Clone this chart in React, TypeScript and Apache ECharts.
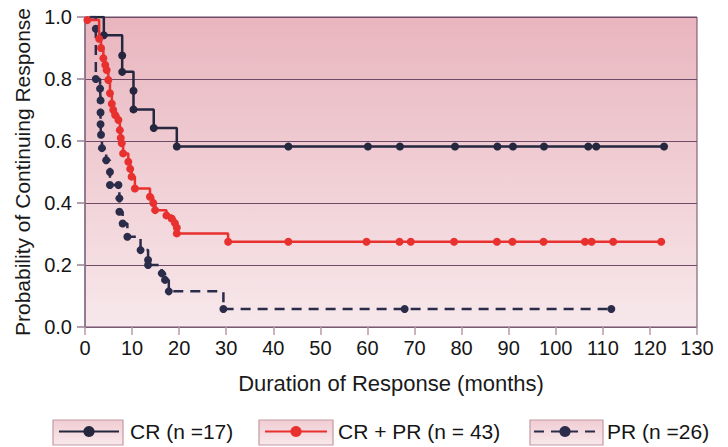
import React, { useEffect, useRef } from "react";
import * as echarts from "echarts";

const xTicks = [0, 10, 20, 30, 40, 50, 60, 70, 80, 90, 100, 110, 120, 130];
const yTicks = [0, 0.2, 0.4, 0.6, 0.8, 1.0];

const seriesNames = ["CR (n =17)", "CR + PR (n = 43)", "PR (n =26)"];

// [months, probability]
const crTimes = [1, 4.0, 7.9, 7.9, 10.3, 10.3, 14.6, 19.5, 43.2, 60.1, 66.9, 78.6, 87.6, 90.9, 97.5, 106.9, 108.6, 123.0];
const crValues = [1.0, 0.941, 0.876, 0.823, 0.762, 0.702, 0.642, 0.582, 0.582, 0.582, 0.582, 0.582, 0.582, 0.582, 0.582, 0.582, 0.582, 0.582];

const crprTimes = [0.5, 3.0, 3.4, 3.9, 4.3, 4.6, 4.95, 5.3, 5.7, 6.0, 6.4, 7.1, 7.4, 7.6, 7.8, 8.1, 9.2, 9.6, 9.9, 10.6, 13.8, 14.5, 14.9, 17.3, 18.4, 19.1, 19.5, 19.5, 30.4, 43.2, 59.8, 66.8, 69.2, 78.4, 87.5, 90.8, 97.4, 106.2, 107.6, 112.2, 122.4];
const crprValues = [0.99, 0.93, 0.9, 0.867, 0.845, 0.829, 0.797, 0.754, 0.72, 0.7, 0.684, 0.668, 0.635, 0.61, 0.593, 0.56, 0.533, 0.51, 0.485, 0.447, 0.42, 0.4, 0.377, 0.36, 0.35, 0.335, 0.32, 0.302, 0.275, 0.275, 0.275, 0.275, 0.275, 0.275, 0.275, 0.275, 0.275, 0.275, 0.275, 0.275, 0.275];

const prTimes = [1, 2.3, 2.3, 3.2, 3.3, 3.3, 3.3, 3.4, 3.6, 4.5, 5.3, 5.3, 7.1, 7.3, 7.3, 8.0, 9.0, 11.8, 13.4, 13.4, 16.3, 17.0, 17.8, 29.4, 67.9, 111.8];
const prValues = [1.0, 0.962, 0.8, 0.769, 0.731, 0.692, 0.654, 0.62, 0.577, 0.538, 0.5, 0.458, 0.458, 0.415, 0.372, 0.334, 0.291, 0.248, 0.216, 0.2, 0.173, 0.152, 0.115, 0.058, 0.058, 0.058];

const colors = ["#25273f", "#e8312f", "#2a2c4a"];

function toData(times: number[], values: number[], hideFirst: boolean) {
  return times.map((t, i) =>
    i === 0 && hideFirst
      ? { value: [t, values[i]], symbol: "none" }
      : { value: [t, values[i]] }
  );
}

export default function App() {
  const ref = useRef<HTMLDivElement>(null);
  useEffect(() => {
    if (!ref.current) return;
    const chart = echarts.init(ref.current, undefined, { renderer: "svg" });
    const font = "Liberation Sans, Arial, Helvetica, sans-serif";
    const bg = new echarts.graphic.LinearGradient(0, 0, 0, 1, [
      { offset: 0, color: "#e9b5be" },
      { offset: 1, color: "#f7e8eb" },
    ]);
    const boxBg = () =>
      new echarts.graphic.LinearGradient(0, 0, 0, 1, [
        { offset: 0, color: "#f0cdd3" },
        { offset: 1, color: "#f8e8eb" },
      ]);
    const boxes = [
      { x: 53, w: 70 },
      { x: 259, w: 74 },
      { x: 530, w: 73 },
    ];
    const legendLefts = [58, 264, 533];
    const legendWidths = [60, 62, 62];
    chart.setOption({
      animation: false,
      grid: {
        left: 85,
        right: 31,
        top: 17,
        bottom: 120,
        show: true,
        backgroundColor: bg,
        borderColor: "#6e4a66",
        borderWidth: 1,
      },
      graphic: boxes.map((b) => ({
        type: "rect",
        shape: { x: b.x, y: 420, width: b.w, height: 25 },
        style: { fill: boxBg(), stroke: "#c39aa3", lineWidth: 1.2 },
        z: 0,
      })),
      legend: seriesNames.map((n, i) => ({
        data: [n],
        left: legendLefts[i],
        top: 421,
        padding: 0,
        itemWidth: legendWidths[i],
        itemHeight: 14,
        textStyle: {
          fontFamily: font,
          fontSize: 21,
          color: "#151515",
          padding: [0, 0, 0, 6],
        },
      })),
      xAxis: {
        type: "value",
        min: 0,
        max: 130,
        interval: 10,
        name: "Duration of Response (months)",
        nameLocation: "middle",
        nameGap: 45,
        nameTextStyle: { fontFamily: font, fontSize: 22, color: "#1a1a1a" },
        axisLine: { show: true, lineStyle: { color: "#7a5a72", width: 1 } },
        axisTick: { show: true, length: 8, lineStyle: { color: "#b99aa8", width: 1.5 } },
        axisLabel: {
          fontFamily: font,
          fontSize: 20,
          color: "#151515",
          margin: 11,
          formatter: (v: number) => (xTicks.includes(v) ? String(v) : ""),
        },
        splitLine: { show: false },
      },
      yAxis: {
        type: "value",
        min: 0,
        max: 1,
        interval: 0.2,
        name: "Probability of Continuing Response",
        nameLocation: "middle",
        nameGap: 52,
        nameTextStyle: { fontFamily: font, fontSize: 21, color: "#1a1a1a" },
        axisLine: { show: true, lineStyle: { color: "#8a7088", width: 1.5 } },
        axisTick: { show: true, length: 8, lineStyle: { color: "#9a8090", width: 1.5 } },
        axisLabel: {
          fontFamily: font,
          fontSize: 20,
          color: "#151515",
          margin: 13,
          formatter: (v: number) => {
            const t = yTicks.find((y) => Math.abs(y - v) < 1e-6);
            return t === undefined ? "" : t.toFixed(1);
          },
        },
        splitLine: { show: true, lineStyle: { color: "#6e4a66", width: 1 } },
      },
      series: [
        {
          name: seriesNames[0],
          type: "line",
          step: "end",
          data: toData(crTimes, crValues, true),
          symbol: "circle",
          symbolSize: 8,
          itemStyle: { color: colors[0] },
          lineStyle: { color: colors[0], width: 2.5 },
          z: 3,
        },
        {
          name: seriesNames[2],
          type: "line",
          step: "end",
          data: toData(prTimes, prValues, true),
          symbol: "circle",
          symbolSize: 8,
          itemStyle: { color: colors[2] },
          lineStyle: { color: colors[2], width: 2.5, type: [10, 7] },
          z: 3,
        },
        {
          name: seriesNames[1],
          type: "line",
          step: "end",
          data: toData(crprTimes, crprValues, false),
          symbol: "circle",
          symbolSize: 8,
          itemStyle: { color: colors[1] },
          lineStyle: { color: colors[1], width: 2.5 },
          z: 4,
        },
      ],
    });
    return () => chart.dispose();
  }, []);
  return (
    <div
      ref={ref}
      style={{ position: "absolute", left: 0, top: 0, width: 728, height: 447 }}
    />
  );
}
